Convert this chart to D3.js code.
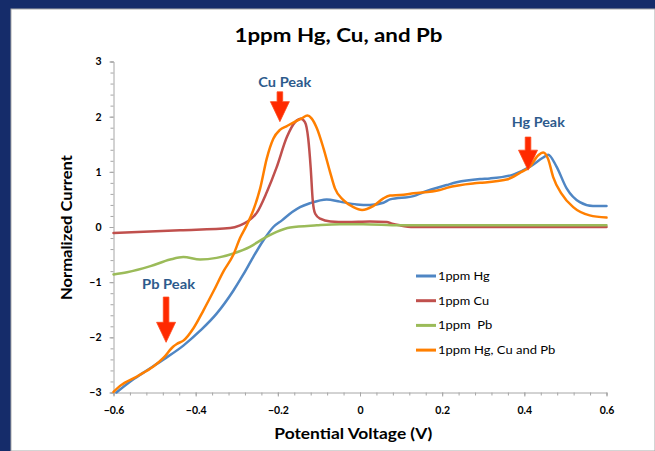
<!DOCTYPE html>
<html>
<head>
<meta charset="utf-8">
<script src="https://cdn.jsdelivr.net/npm/d3@7"></script>
<style>
  html, body { margin: 0; padding: 0; background: #fff; }
  svg { display: block; font-family: Lato, "Open Sans", sans-serif; }
</style>
</head>
<body>
<svg id="chart" width="655" height="451"></svg>
<script>
// Stripping voltammetry traces: [potential (V), normalized current]
const hgSeries = [[-0.593,-3.0],[-0.559,-2.8],[-0.527,-2.64],[-0.478,-2.4],[-0.43,-2.15],[-0.389,-1.88],[-0.349,-1.57],[-0.308,-1.15],[-0.284,-0.86],[-0.26,-0.545],[-0.235,-0.24],[-0.211,0.0],[-0.19,0.12],[-0.165,0.27],[-0.146,0.36],[-0.122,0.43],[-0.081,0.5],[-0.049,0.46],[-0.008,0.41],[0.024,0.4],[0.057,0.44],[0.073,0.5],[0.13,0.56],[0.154,0.63],[0.211,0.76],[0.235,0.81],[0.292,0.87],[0.316,0.88],[0.373,0.95],[0.413,1.09],[0.446,1.26],[0.458,1.31],[0.478,1.1],[0.503,0.7],[0.535,0.45],[0.567,0.38],[0.6,0.38]];

const cuSeries = [[-0.6,-0.11],[-0.438,-0.06],[-0.316,-0.02],[-0.292,0.03],[-0.276,0.09],[-0.251,0.26],[-0.227,0.63],[-0.203,1.08],[-0.178,1.63],[-0.158,1.9],[-0.144,1.96],[-0.134,1.9],[-0.126,1.6],[-0.12,1.07],[-0.115,0.48],[-0.109,0.24],[-0.097,0.15],[-0.072,0.1],[-0.032,0.09],[0.024,0.1],[0.065,0.09],[0.078,0.06],[0.097,0.03],[0.13,0.0],[0.6,0.0]];

const pbSeries = [[-0.6,-0.86],[-0.567,-0.82],[-0.51,-0.71],[-0.462,-0.59],[-0.43,-0.545],[-0.389,-0.59],[-0.349,-0.56],[-0.308,-0.48],[-0.268,-0.36],[-0.235,-0.21],[-0.203,-0.09],[-0.17,-0.01],[-0.105,0.03],[-0.049,0.05],[0.008,0.05],[0.097,0.03],[0.6,0.03]];

const mixSeries = [[-0.6,-2.99],[-0.584,-2.88],[-0.543,-2.71],[-0.503,-2.53],[-0.478,-2.37],[-0.455,-2.17],[-0.446,-2.12],[-0.43,-2.06],[-0.405,-1.83],[-0.381,-1.51],[-0.357,-1.17],[-0.332,-0.8],[-0.308,-0.5],[-0.292,-0.2],[-0.276,0.03],[-0.26,0.3],[-0.243,0.7],[-0.227,1.24],[-0.211,1.6],[-0.195,1.76],[-0.178,1.83],[-0.158,1.91],[-0.142,1.97],[-0.128,2.02],[-0.118,1.97],[-0.105,1.79],[-0.089,1.43],[-0.073,1.0],[-0.061,0.7],[-0.041,0.49],[-0.016,0.36],[0.005,0.31],[0.032,0.38],[0.057,0.52],[0.073,0.57],[0.097,0.58],[0.13,0.61],[0.194,0.67],[0.211,0.71],[0.275,0.79],[0.292,0.8],[0.357,0.86],[0.389,0.98],[0.413,1.09],[0.434,1.3],[0.446,1.35],[0.458,1.23],[0.47,0.91],[0.49,0.61],[0.519,0.36],[0.559,0.21],[0.6,0.17]];

const seriesNames = ["1ppm Hg", "1ppm Cu", "1ppm  Pb", "1ppm Hg, Cu and Pb"];
const seriesColors = ["#4f86c4", "#c0504d", "#9bbb59", "#ff7f00"];

const xTicks = [-0.6, -0.4, -0.2, 0, 0.2, 0.4, 0.6];
const yTicks = [-3, -2, -1, 0, 1, 2, 3];

// Peak call-outs: label position and arrow (top -> tip), in data units
const peakLabels = ["Cu Peak", "Hg Peak", "Pb Peak"];
const peakLabelAt = [[-0.183, 2.53], [0.434, 1.82], [-0.466, -1.12]];
const peakArrowTop = [[-0.195, 2.45], [0.409, 1.63], [-0.472, -1.27]];
const peakArrowTip = [[-0.195, 1.91], [0.409, 1.03], [-0.472, -2.09]];

const svg = d3.select("#chart");
const W = 655, H = 451;

// slide frame
svg.append("rect").attr("x", 0).attr("y", 0).attr("width", W).attr("height", H).attr("fill", "#152c6a");
svg.append("rect").attr("x", 11).attr("y", 9).attr("width", W - 11).attr("height", H - 9).attr("fill", "#ffffff")
  .attr("stroke", "#a9a9a9").attr("stroke-width", 1);

const x = d3.scaleLinear().domain([-0.6, 0.6]).range([113.5, 606.5]);
const y = d3.scaleLinear().domain([-3, 3]).range([392.5, 61.5]);

const axisColor = "#a6a6a6";

// wide-set text: stretch a label to a given advance width
function stretched(sel, width) {
  return sel.attr("textLength", width).attr("lengthAdjust", "spacingAndGlyphs");
}

// minor ticks
const xMinor = d3.range(-0.6, 0.6001, 0.04).map(v => +v.toFixed(2));
const yMinor = d3.range(-3, 3.001, 0.2).map(v => +v.toFixed(1));

const xAxisG = svg.append("g").attr("transform", `translate(0,${y(-3)})`);
xAxisG.call(d3.axisBottom(x).tickValues(xMinor).tickSize(3).tickFormat(""));
xAxisG.call(g => g.selectAll("path,line").attr("stroke", axisColor));

const xMajorG = svg.append("g").attr("transform", `translate(0,${y(-3)})`);
xMajorG.call(d3.axisBottom(x).tickValues(xTicks).tickSize(4).tickPadding(10)
  .tickFormat(d => d === 0 ? "0" : d3.format(".1f")(d)));
xMajorG.select(".domain").remove();
xMajorG.selectAll("line").attr("stroke", axisColor);
xMajorG.selectAll("text").attr("font-family", "Lato, sans-serif").attr("font-weight", "bold")
  .attr("font-size", 10.5).attr("fill", "#000");

const yAxisG = svg.append("g").attr("transform", `translate(${x(-0.6)},0)`);
yAxisG.call(d3.axisLeft(y).tickValues(yMinor).tickSize(3).tickFormat(""));
yAxisG.call(g => g.selectAll("path,line").attr("stroke", axisColor));

const yMajorG = svg.append("g").attr("transform", `translate(${x(-0.6)},0)`);
yMajorG.call(d3.axisLeft(y).tickValues(yTicks).tickSize(4).tickPadding(8).tickFormat(d3.format("d")));
yMajorG.select(".domain").remove();
yMajorG.selectAll("line").attr("stroke", axisColor);
yMajorG.selectAll("text").attr("font-family", "Lato, sans-serif").attr("font-weight", "bold")
  .attr("font-size", 10.5).attr("fill", "#000");

// traces
const line = d3.line().x(d => x(d[0])).y(d => y(d[1])).curve(d3.curveMonotoneX);
const allSeries = [hgSeries, cuSeries, pbSeries, mixSeries];
svg.append("g").selectAll("path").data(allSeries).join("path")
  .attr("d", line)
  .attr("fill", "none")
  .attr("stroke", (d, i) => seriesColors[i])
  .attr("stroke-width", 2.5)
  .attr("stroke-linejoin", "round")
  .attr("stroke-linecap", "round");

// title
stretched(svg.append("text").attr("x", 338.5).attr("y", 42).attr("text-anchor", "middle")
  .attr("font-weight", "bold").attr("font-size", 18).attr("fill", "#000")
  .text("1ppm Hg, Cu, and Pb"), 208);

// axis titles
stretched(svg.append("text").attr("x", 353.3).attr("y", 439).attr("text-anchor", "middle")
  .attr("font-weight", "bold").attr("font-size", 15).attr("fill", "#000")
  .text("Potential Voltage (V)"), 158);
stretched(svg.append("text").attr("transform", "translate(71.5,227.5) rotate(-90)").attr("text-anchor", "middle")
  .attr("font-weight", "bold").attr("font-size", 15).attr("fill", "#000")
  .text("Normalized Current"), 145);

// legend
const legendWidths = [51.7, 51, 54.3, 117.3];
const legend = svg.append("g").attr("transform", "translate(416,276)");
seriesNames.forEach((name, i) => {
  const row = legend.append("g").attr("transform", `translate(0,${i * 24.7})`);
  row.append("line").attr("x1", 0).attr("x2", 20).attr("y1", 0).attr("y2", 0)
    .attr("stroke", seriesColors[i]).attr("stroke-width", 3);
  stretched(row.append("text").attr("x", 22).attr("y", 4).attr("font-size", 11.5).attr("fill", "#000")
    .style("white-space", "pre").text(name), legendWidths[i]);
});

// peak call-outs
const arrowColor = "#ff2a00";
const labelColor = "#2d5a8c";
peakLabels.forEach((label, i) => {
  stretched(svg.append("text").attr("x", x(peakLabelAt[i][0])).attr("y", y(peakLabelAt[i][1]))
    .attr("text-anchor", "middle").attr("font-weight", "bold").attr("font-size", 13)
    .attr("fill", labelColor).text(label), 53);
  const cx = x(peakArrowTip[i][0]);
  const top = y(peakArrowTop[i][1]);
  const tip = y(peakArrowTip[i][1]);
  const headLen = 20, headHalf = 9.5, shaftHalf = 2.8;
  const neck = tip - headLen;
  const pts = [[cx - shaftHalf, top], [cx + shaftHalf, top], [cx + shaftHalf, neck], [cx + headHalf, neck],
    [cx, tip], [cx - headHalf, neck], [cx - shaftHalf, neck]];
  svg.append("path").attr("d", d3.line()(pts) + "Z").attr("fill", arrowColor)
    .attr("stroke", "#ff4a1a").attr("stroke-width", 0.8).attr("stroke-linejoin", "round");
});
</script>
</body>
</html>
